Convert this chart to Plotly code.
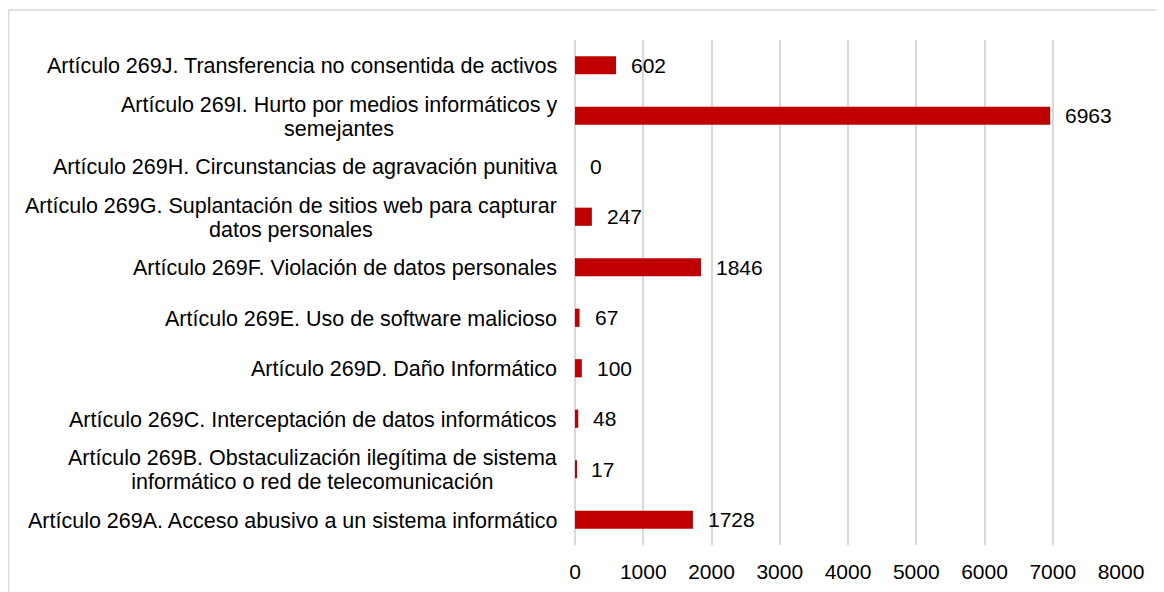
import plotly.graph_objects as go

categories = [
    "Artículo 269A. Acceso abusivo a un sistema informático",
    "Artículo 269B. Obstaculización ilegítima de sistema<br>informático o red de telecomunicación",
    "Artículo 269C. Interceptación de datos informáticos",
    "Artículo 269D. Daño Informático",
    "Artículo 269E. Uso de software malicioso",
    "Artículo 269F. Violación de datos personales",
    "Artículo 269G. Suplantación de sitios web para capturar<br>datos personales",
    "Artículo 269H. Circunstancias de agravación punitiva",
    "Artículo 269I. Hurto por medios informáticos y<br>semejantes",
    "Artículo 269J. Transferencia no consentida de activos",
]
values = [1728, 17, 48, 100, 67, 1846, 247, 0, 6963, 602]
x_ticks = [0, 1000, 2000, 3000, 4000, 5000, 6000, 7000, 8000]

FONT = "Liberation Sans, Arial, sans-serif"
FS = 21
CAT_FS = 21.5
# page body has an 8px margin, so the figure is made 8px smaller
W, H = 1156, 584
L, R, T, B = 567, 43, 32, 47

ids = list(range(len(categories)))

fig = go.Figure()
fig.add_trace(go.Bar(
    x=values, y=ids, orientation="h",
    marker=dict(color="#C00000", line=dict(width=0)),
    width=0.36, hoverinfo="x",
))

span_open = '<span style="font-size:%spx">' % CAT_FS
annotations = []
for i, (c, v) in enumerate(zip(categories, values)):
    # base font sets line spacing (1.3 x 18.5 = 24px); inner span sets glyph size
    annotations.append(dict(
        x=0, xref="paper", y=i, yref="y",
        text=span_open + c.replace("<br>", "</span><br>" + span_open) + "</span>",
        showarrow=False,
        xanchor="right", yanchor="middle", align="center", xshift=-16, yshift=-1,
        font=dict(family=FONT, size=18.5, color="#000000"),
    ))
    annotations.append(dict(
        x=v, xref="x", y=i, yref="y", text=str(v), showarrow=False,
        xanchor="left", yanchor="middle", xshift=13,
        font=dict(family=FONT, size=FS, color="#000000"),
    ))

pw = W - L - R
ph = H - T - B
fig.update_layout(
    width=W, height=H,
    margin=dict(l=L, r=R, t=T, b=B, autoexpand=False),
    paper_bgcolor="white", plot_bgcolor="white",
    showlegend=False,
    annotations=annotations,
    shapes=[dict(
        type="rect", xref="paper", yref="paper",
        x0=(0.7 - L) / pw, x1=(1154 - L) / pw,
        y0=(H - 600 - B) / ph, y1=(H - 2 - B) / ph,
        line=dict(color="#d9d9d9", width=1.3), fillcolor="rgba(0,0,0,0)",
        layer="below",
    )],
    xaxis=dict(
        range=[0, 8000], tickvals=x_ticks, ticktext=[str(t) for t in x_ticks],
        showgrid=True, gridcolor="#d9d9d9", gridwidth=1.5,
        zeroline=True, zerolinecolor="#d9d9d9", zerolinewidth=1.5,
        showline=False, ticks="outside", ticklen=8, tickcolor="rgba(0,0,0,0)",
        tickfont=dict(family=FONT, size=FS, color="#000000"),
        automargin=False, fixedrange=True,
    ),
    yaxis=dict(
        range=[-0.5, len(categories) - 0.5], showticklabels=False,
        showgrid=False, zeroline=False, showline=False,
        automargin=False, fixedrange=True,
    ),
    font=dict(family=FONT, size=FS, color="#000000"),
)

fig.write_html("out.html")
